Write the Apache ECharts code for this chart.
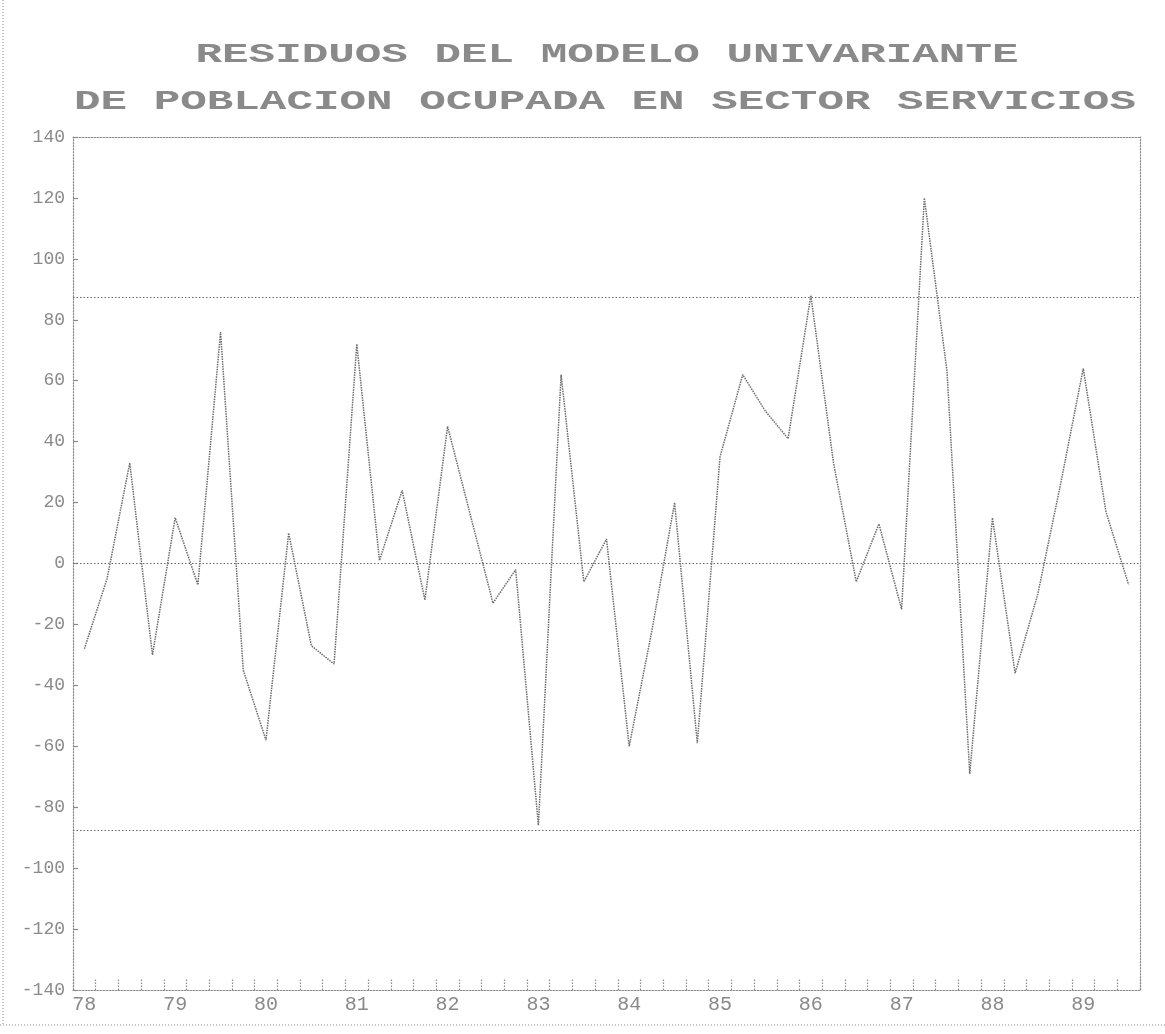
<!DOCTYPE html>
<html><head><meta charset="utf-8">
<script src="https://cdn.jsdelivr.net/npm/echarts@6/dist/echarts.min.js"></script>
<style>html,body{margin:0;padding:0;background:#fff}#c{width:1165px;height:1034px}</style>
</head><body><div id="c"></div>
<script>
// ---- data ----
const years = ['78','79','80','81','82','83','84','85','86','87','88','89'];
const quarters = ['T1','T2','T3','T4'];
const residuals = [
  -28, -5, 33, -30, 15, -7, 76, -35, -58, 10, -27, -33,
  72, 1, 24, -12, 45, 16, -13, -2, -86, 62, -6, 8,
  -60, -22, 20, -59, 35, 62, 50, 41, 88, 33, -6, 13,
  -15, 120, 63, -69, 15, -36, -10, 26, 64, 17, -7
];
const bands = [87.5, 0, -87.5];
const titleLines = ['RESIDUOS DEL MODELO UNIVARIANTE', 'DE POBLACION OCUPADA EN SECTOR SERVICIOS'];
const yMin = -140, yMax = 140, yStep = 20;

// ---- build ----
const categories = [];
years.forEach(y => quarters.forEach(q => categories.push(y + ' ' + q)));
const cats = categories.slice(0, residuals.length);

const gray = '#8a8a8a';
const dark = '#6a6a6a';
const fontFam = '"Liberation Mono", "DejaVu Sans Mono", monospace';

const chart = echarts.init(document.getElementById('c'), null, {renderer: 'canvas'});
chart.setOption({
  animation: false,
  backgroundColor: '#fff',
  grid: {left: 73, right: 25, top: 137, bottom: 44, containLabel: false},
  graphic: [
    {type: 'text', x: 607, y: 55, scaleX: 1.58, style: {text: titleLines[0], font: 'bold 28px ' + fontFam, fill: gray, textAlign: 'center', textVerticalAlign: 'middle'}},
    {type: 'text', x: 605, y: 102, scaleX: 1.58, style: {text: titleLines[1], font: 'bold 28px ' + fontFam, fill: gray, textAlign: 'center', textVerticalAlign: 'middle'}},
    {type: 'line', shape: {x1: 3, y1: 0, x2: 3, y2: 1025}, style: {stroke: gray, lineWidth: 1, lineDash: [1, 2]}},
    {type: 'line', shape: {x1: 0, y1: 1025, x2: 1165, y2: 1025}, style: {stroke: gray, lineWidth: 1, lineDash: [1, 2]}}
  ],
  xAxis: [{
    type: 'category', data: cats, boundaryGap: true, position: 'bottom',
    axisLine: {show: true, onZero: false, lineStyle: {color: gray, type: [1.5, 1.5], width: 1.2}},
    axisTick: {show: true, inside: true, length: 12, interval: 0, lineStyle: {color: gray, type: [1.5, 1.5], width: 1.2}},
    axisLabel: {interval: 3, margin: 5, color: gray, fontFamily: fontFam, fontSize: 20,
      formatter: v => v.split(' ')[0]},
    splitLine: {show: false}
  }, {
    type: 'category', data: cats, position: 'top',
    axisLine: {show: true, onZero: false, lineStyle: {color: gray, type: [1.5, 1.5], width: 1.2}},
    axisTick: {show: false}, axisLabel: {show: false}, splitLine: {show: false}
  }],
  yAxis: [{
    type: 'value', min: yMin, max: yMax, interval: yStep, position: 'left',
    axisLine: {show: true, onZero: false, lineStyle: {color: gray, type: [1.5, 1.5], width: 1.2}},
    axisTick: {show: true, inside: true, length: 5, lineStyle: {color: gray, width: 1.2}},
    axisLabel: {margin: 8, color: gray, fontFamily: fontFam, fontSize: 18},
    splitLine: {show: false}
  }, {
    type: 'value', min: yMin, max: yMax, interval: yStep, position: 'right',
    axisLine: {show: true, onZero: false, lineStyle: {color: gray, type: [1.5, 1.5], width: 1.2}},
    axisTick: {show: false}, axisLabel: {show: false}, splitLine: {show: false}
  }],
  series: [{
    type: 'line', data: residuals, xAxisIndex: 0, yAxisIndex: 0,
    showSymbol: false, symbol: 'none',
    lineStyle: {color: dark, width: 1.5, type: [1.5, 1]},
    markLine: {
      silent: true, symbol: ['none', 'none'], label: {show: false},
      lineStyle: {color: dark, type: [1.5, 2], width: 1.2},
      data: bands.map(b => ({yAxis: b}))
    }
  }]
});
</script></body></html>
